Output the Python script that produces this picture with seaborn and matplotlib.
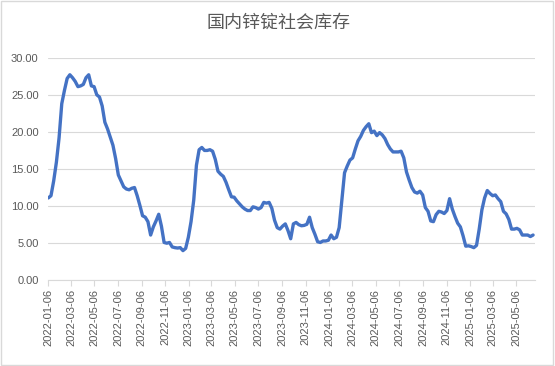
import numpy as np
import pandas as pd
import matplotlib
matplotlib.use("Agg")
import matplotlib.pyplot as plt
import matplotlib.dates as mdates
from matplotlib.patches import Rectangle
import seaborn as sns

# ---- data (weekly, starting 2022-01-06) ----
start_date = "2022-01-06"
inventory = [
    11.1, 11.4, 13.4, 15.9, 19.2, 23.8, 25.6, 27.2, 27.7, 27.3,
    26.8, 26.1, 26.2, 26.4, 27.3, 27.7, 26.2, 26.1, 25.0, 24.7,
    23.5, 21.3, 20.4, 19.3, 18.2, 16.4, 14.2, 13.4, 12.6,
    12.3, 12.2, 12.4, 12.5, 11.4, 10.1, 8.7, 8.5, 7.9, 6.1,
    7.2, 8.0, 8.9, 7.3, 5.1, 5.0, 5.1, 4.5, 4.4, 4.35,
    4.4, 4.0, 4.3, 5.8, 7.9, 10.8, 15.5, 17.6, 17.9, 17.5,
    17.5, 17.6,
    17.4, 16.3, 14.7, 14.3, 14.0, 13.2, 12.2, 11.25, 11.2, 10.7,
    10.3, 9.9, 9.6, 9.4, 9.4, 9.9, 9.8, 9.6, 9.8, 10.5,
    10.4, 10.5, 9.7, 8.1, 7.1, 6.9, 7.3, 7.6, 6.7, 5.6,
    7.6,
    7.8, 7.5, 7.35, 7.4, 7.55, 8.5, 7.1, 6.2, 5.2, 5.1,
    5.3, 5.3, 5.4, 6.1, 5.6, 5.8, 7.1, 10.8, 14.5, 15.4,
    16.2, 16.5, 17.7, 18.8, 19.4, 20.2, 20.7, 21.1, 19.9, 20.1,
    19.5, 19.9,
    19.6, 19.1, 18.3, 17.7, 17.3, 17.3, 17.3, 17.4, 16.5, 14.6,
    13.5, 12.5, 11.9, 11.75, 12.0, 11.5, 9.8, 9.3, 8.0, 7.9,
    8.85, 9.3, 9.2, 9.0, 9.4, 11.0, 9.6, 8.6, 7.7, 7.2,
    6.0,
    4.6, 4.65, 4.55, 4.4, 4.7, 6.9, 9.5, 11.1, 12.1, 11.7,
    11.4, 11.5, 11.0, 10.6, 9.3, 8.95, 8.2, 6.9, 6.9, 7.0,
    6.8, 6.1, 6.1, 6.1, 5.9, 6.1,
]
dates = pd.date_range(start_date, periods=len(inventory), freq="7D")
title = "国内锌锭社会库存"
y_ticks = [0, 5, 10, 15, 20, 25, 30]

df = pd.DataFrame({"date": dates, "value": inventory})

sns.set_theme(style="white")
plt.rcParams["font.family"] = ["Liberation Sans", "DejaVu Sans"]

fig = plt.figure(figsize=(5.55, 3.66), dpi=100)
ax = fig.add_axes([48.3 / 555, 1 - 280.3 / 366, (535 - 48.3) / 555, (280.3 - 57.7) / 366])

sns.lineplot(data=df, x="date", y="value", ax=ax, color="#4472C4", linewidth=2.4)

ax.set_ylim(0, 30)
ax.set_yticks(y_ticks)
ax.yaxis.set_major_formatter(matplotlib.ticker.FormatStrFormatter("%.2f"))
ax.set_xlim(pd.Timestamp("2022-01-06"), pd.Timestamp("2025-06-24"))
ax.xaxis.set_major_locator(mdates.MonthLocator(bymonth=[1, 3, 5, 7, 9, 11], bymonthday=6))
ax.xaxis.set_major_formatter(mdates.DateFormatter("%Y-%m-%d"))

ax.grid(axis="y", color="#d9d9d9", linewidth=0.8)
ax.grid(axis="x", visible=False)
for s in ["top", "right", "left"]:
    ax.spines[s].set_visible(False)
ax.spines["bottom"].set_color("#d9d9d9")
ax.spines["bottom"].set_linewidth(0.8)
ax.set_axisbelow(True)

ax.tick_params(axis="x", which="major", direction="out", length=4, width=0.8,
               color="#d9d9d9", labelsize=8, labelcolor="#595959", rotation=90, pad=2,
               bottom=True)
ax.tick_params(axis="y", length=0, labelsize=8, labelcolor="#595959", pad=7)
ax.set_xlabel("")
ax.set_ylabel("")

fig.text(278 / 555, 1 - 23 / 366, title, ha="center", va="center", fontsize=13,
         color="#595959", family=["Noto Sans CJK SC", "DejaVu Sans"])

fig.patches.append(Rectangle((0.002, 0.003), 0.995, 0.994, transform=fig.transFigure,
                             fill=False, edgecolor="#d9d9d9", linewidth=1.0))

fig.savefig("out.png", dpi=100)
